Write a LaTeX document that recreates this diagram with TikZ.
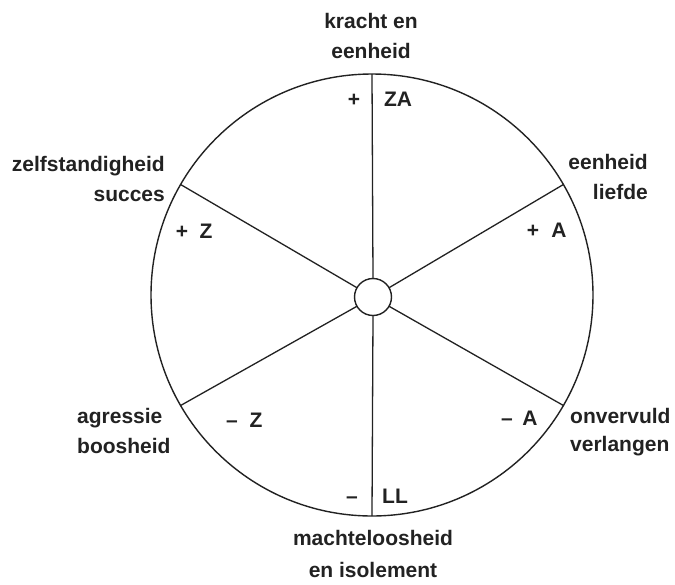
\documentclass[tikz,border=0pt]{standalone}
\usepackage{fontspec}
\setmainfont{Liberation Sans}
\definecolor{ink}{HTML}{222222}
\begin{document}
\begin{tikzpicture}[x=1pt,y=-1pt,
  lbl/.style={font=\bfseries\fontsize{21}{25}\selectfont, text=ink, inner sep=0pt},
  ring/.style={draw=ink, circle, inner sep=0pt, outer sep=0pt, line width=1.4pt},
  spoke/.style={draw=ink, line width=1.3pt}]
\useasboundingbox (0,0) rectangle (675,584);
\fill[white] (0,0) rectangle (675,584);
\node[ring, minimum size=442pt] (big) at (372,295) {};
\node[ring, minimum size=37pt, fill=white] (hub) at (373,297) {};
\foreach \a in {90,150,210,270,330,30}
  \draw[spoke] (hub.\a) -- (big.\a);
% outer labels
\node[lbl, anchor=base] (t1) at (371,28) {kracht en};
\node[lbl, anchor=base] (t2) at (371,58) {eenheid};
\node[lbl, anchor=base east] (l1) at (165,171) {zelfstandigheid};
\node[lbl, anchor=base east] (l2) at (165,201) {succes};
\node[lbl, anchor=base east] (r1) at (648,169) {eenheid};
\node[lbl, anchor=base east] (r2) at (648,199) {liefde};
\node[lbl, anchor=base west] (bl1) at (77,423) {agressie};
\node[lbl, anchor=base west] (bl2) at (77,453) {boosheid};
\node[lbl, anchor=base west] (br1) at (570,423) {onvervuld};
\node[lbl, anchor=base west] (br2) at (570,451) {verlangen};
\node[lbl, anchor=base] (b1) at (373,545) {machteloosheid};
\node[lbl, anchor=base] (b2) at (373,577) {en isolement};
% inner labels
\node[lbl, anchor=base] (za1) at (354,106) {+};
\node[lbl, anchor=base] (za2) at (398,106) {ZA};
\node[lbl, anchor=base] (pz1) at (182,238) {+};
\node[lbl, anchor=base] (pz2) at (206,238) {Z};
\node[lbl, anchor=base] (pa1) at (533,237) {+};
\node[lbl, anchor=base] (pa2) at (559,237) {A};
\node[lbl, anchor=base] (mz1) at (232,427) {–};
\node[lbl, anchor=base] (mz2) at (256,427) {Z};
\node[lbl, anchor=base] (ma1) at (507,425) {–};
\node[lbl, anchor=base] (ma2) at (530,425) {A};
\node[lbl, anchor=base] (ml1) at (352,503) {–};
\node[lbl, anchor=base] (ml2) at (395,503) {LL};
\end{tikzpicture}
\end{document}
